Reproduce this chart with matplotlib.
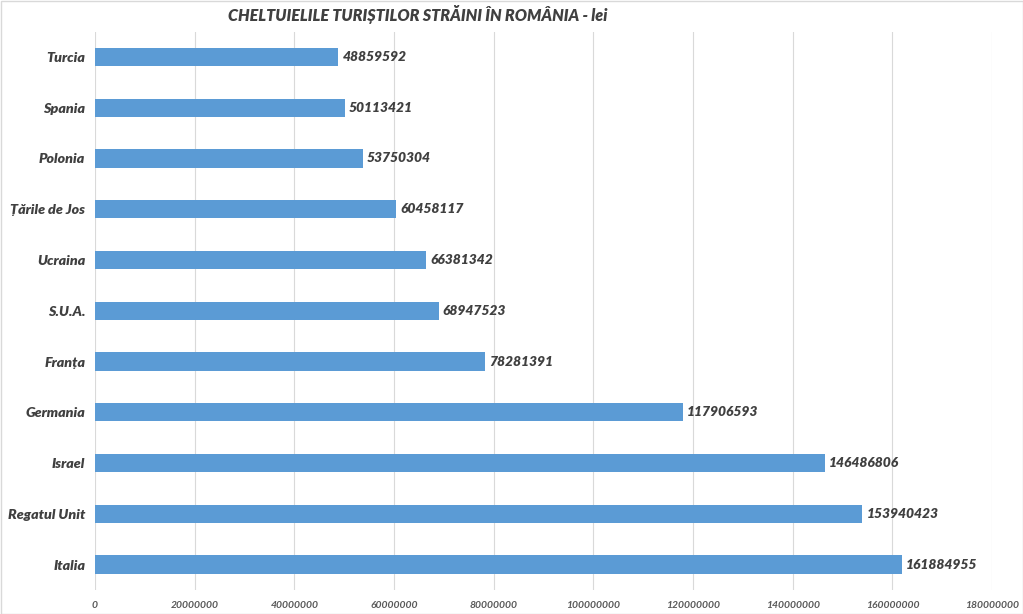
import matplotlib.pyplot as plt
from matplotlib.ticker import MultipleLocator, FuncFormatter

countries = ["Italia", "Regatul Unit", "Israel", "Germania", "Franța", "S.U.A.",
             "Ucraina", "Țările de Jos", "Polonia", "Spania", "Turcia"]
spending = [161884955, 153940423, 146486806, 117906593, 78281391, 68947523,
            66381342, 60458117, 53750304, 50113421, 48859592]
title = "CHELTUIELILE TURIȘTILOR STRĂINI ÎN ROMÂNIA - lei"

plt.rcParams['font.family'] = ['Lato', 'DejaVu Sans']

fig = plt.figure(figsize=(10.23, 6.14), dpi=100)
ax = fig.add_axes([95 / 1023, 24 / 614, 897 / 1023, 558.5 / 614])

ypos = list(range(len(countries)))
ax.barh(ypos, spending, height=0.36, color='#5B9BD5', zorder=3)
for y, v in zip(ypos, spending):
    ax.annotate(str(v), (v, y), xytext=(3, 0), textcoords='offset points',
                ha='left', va='center', fontsize=10, fontweight='heavy',
                fontstyle='italic', color='#404040')

ax.set_ylim(-0.5, len(countries) - 0.5)
ax.set_xlim(0, 180000000)
ax.set_yticks(ypos)
ax.set_yticklabels(countries, fontsize=10.3, fontweight='heavy',
                   fontstyle='italic', color='#404040')
ax.xaxis.set_major_locator(MultipleLocator(20000000))
ax.xaxis.set_major_formatter(FuncFormatter(lambda x, p: f"{int(x)}"))
for lbl in ax.get_xticklabels():
    lbl.set_fontsize(7.5)
    lbl.set_fontstyle('italic')
    lbl.set_fontweight('bold')
    lbl.set_color('#595959')
ax.tick_params(axis='both', length=0)
ax.tick_params(axis='y', pad=7)
ax.tick_params(axis='x', pad=8)
ax.grid(axis='x', color='#D9D9D9', linewidth=0.8, zorder=0)
for s in ax.spines.values():
    s.set_visible(False)

fig.text(418 / 1023, 1 - 15 / 614, title, ha='center', va='center',
         fontsize=11.6, fontweight='heavy', fontstyle='italic', color='#404040')

border = plt.Rectangle((0.5 / 1023, 0.5 / 614), 1 - 1 / 1023, 1 - 1 / 614,
                       transform=fig.transFigure, fill=False,
                       edgecolor='#D9D9D9', linewidth=1)
fig.patches.append(border)

fig.savefig("out.png", dpi=100)
